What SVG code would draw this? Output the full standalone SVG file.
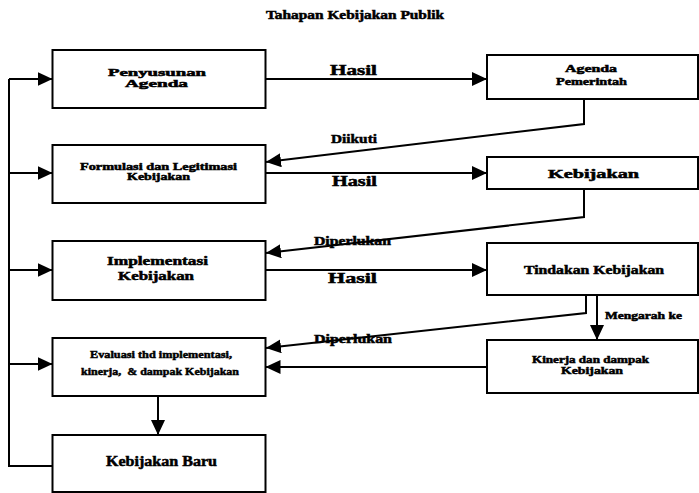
<svg xmlns="http://www.w3.org/2000/svg" width="699" height="493" viewBox="0 0 699 493">
<defs>
<marker id="ah" viewBox="0 0 15 14" markerWidth="15" markerHeight="14" refX="15" refY="7" orient="auto" markerUnits="userSpaceOnUse">
<path d="M0,0 L15,7 L0,14 Z" fill="#000"/>
</marker>
<style>
.box{fill:#fff;stroke:#000;stroke-width:2}
.ln{fill:none;stroke:#000;stroke-width:2}
.ar{fill:none;stroke:#000;stroke-width:2;marker-end:url(#ah)}
text{font-family:"Liberation Serif","Times New Roman",serif;font-weight:bold;fill:#000;stroke:#000;stroke-width:0.5}
</style>
</defs>
<rect width="699" height="493" fill="#fff"/>
<text x="266" y="19" font-size="12" textLength="178" lengthAdjust="spacingAndGlyphs">Tahapan Kebijakan Publik</text>

<g id="connectors">
<polyline class="ln" points="9,79 9,466 52.5,466"/>
<line class="ar" x1="9" y1="79" x2="52.5" y2="79"/>
<line class="ar" x1="9" y1="173" x2="52.5" y2="173"/>
<line class="ar" x1="9" y1="270" x2="52.5" y2="270"/>
<line class="ar" x1="9" y1="364" x2="52.5" y2="364"/>
<line class="ar" x1="265.5" y1="79" x2="487" y2="79"/>
<line class="ar" x1="265.5" y1="173" x2="487" y2="173"/>
<line class="ar" x1="265.5" y1="270" x2="487" y2="270"/>
<polyline class="ar" points="584,99 584,124 266,162"/>
<polyline class="ar" points="584,189 584,217 266,253"/>
<polyline class="ar" points="586,295 586,313 266,348"/>
<line class="ar" x1="597" y1="295" x2="597" y2="340"/>
<line class="ar" x1="487" y1="367" x2="265.5" y2="367"/>
<line class="ar" x1="158" y1="396" x2="158" y2="435"/>
<text x="330" y="75" font-size="14" textLength="47" lengthAdjust="spacingAndGlyphs">Hasil</text>
<text x="331" y="143" font-size="13" textLength="46" lengthAdjust="spacingAndGlyphs">Diikuti</text>
<text x="332" y="186" font-size="14" textLength="45" lengthAdjust="spacingAndGlyphs">Hasil</text>
<text x="314" y="245" font-size="12" textLength="77" lengthAdjust="spacingAndGlyphs">Diperlukan</text>
<text x="328" y="283" font-size="14" textLength="49" lengthAdjust="spacingAndGlyphs">Hasil</text>
<text x="605" y="319" font-size="10" textLength="77" lengthAdjust="spacingAndGlyphs">Mengarah ke</text>
<text x="314" y="343" font-size="12" textLength="78" lengthAdjust="spacingAndGlyphs">Diperlukan</text>
</g>

<g id="penyusunan">
<rect class="box" x="52.5" y="50" width="213" height="58"/>
<text x="108" y="76" font-size="10" textLength="98" lengthAdjust="spacingAndGlyphs">Penyusunan</text>
<text x="125" y="87" font-size="10" textLength="63" lengthAdjust="spacingAndGlyphs">Agenda</text>
</g>
<g id="agenda-pemerintah">
<rect class="box" x="487" y="55" width="211" height="44"/>
<text x="565" y="72" font-size="10" textLength="52" lengthAdjust="spacingAndGlyphs">Agenda</text>
<text x="556" y="85" font-size="10" textLength="71" lengthAdjust="spacingAndGlyphs">Pemerintah</text>
</g>
<g id="formulasi">
<rect class="box" x="52.5" y="145" width="213" height="58"/>
<text x="80" y="170" font-size="10" textLength="157" lengthAdjust="spacingAndGlyphs">Formulasi dan Legitimasi</text>
<text x="127" y="180" font-size="10" textLength="63" lengthAdjust="spacingAndGlyphs">Kebijakan</text>
</g>
<g id="kebijakan">
<rect class="box" x="487" y="157" width="211" height="32"/>
<text x="548" y="178" font-size="12" textLength="91" lengthAdjust="spacingAndGlyphs">Kebijakan</text>
</g>
<g id="implementasi">
<rect class="box" x="52.5" y="241" width="213" height="59"/>
<text x="107" y="265" font-size="12" textLength="101" lengthAdjust="spacingAndGlyphs">Implementasi</text>
<text x="118" y="280" font-size="12" textLength="76" lengthAdjust="spacingAndGlyphs">Kebijakan</text>
</g>
<g id="tindakan">
<rect class="box" x="487" y="243" width="211" height="52"/>
<text x="524" y="274" font-size="12" textLength="140" lengthAdjust="spacingAndGlyphs">Tindakan Kebijakan</text>
</g>
<g id="evaluasi">
<rect class="box" x="52.5" y="338" width="213" height="58"/>
<text x="90" y="358" font-size="11" textLength="142" lengthAdjust="spacingAndGlyphs">Evaluasi thd implementasi,</text>
<text x="81" y="375" font-size="11" textLength="158" lengthAdjust="spacingAndGlyphs">kinerja,&#160; &amp; dampak Kebijakan</text>
</g>
<g id="kinerja">
<rect class="box" x="487" y="340" width="211" height="53"/>
<text x="532" y="363" font-size="10" textLength="117" lengthAdjust="spacingAndGlyphs">Kinerja dan dampak</text>
<text x="561" y="374" font-size="10" textLength="62" lengthAdjust="spacingAndGlyphs">Kebijakan</text>
</g>
<g id="kebijakan-baru">
<rect class="box" x="52.5" y="435" width="213" height="57"/>
<text x="106" y="466" font-size="14" textLength="111" lengthAdjust="spacingAndGlyphs">Kebijakan Baru</text>
</g>
</svg>
